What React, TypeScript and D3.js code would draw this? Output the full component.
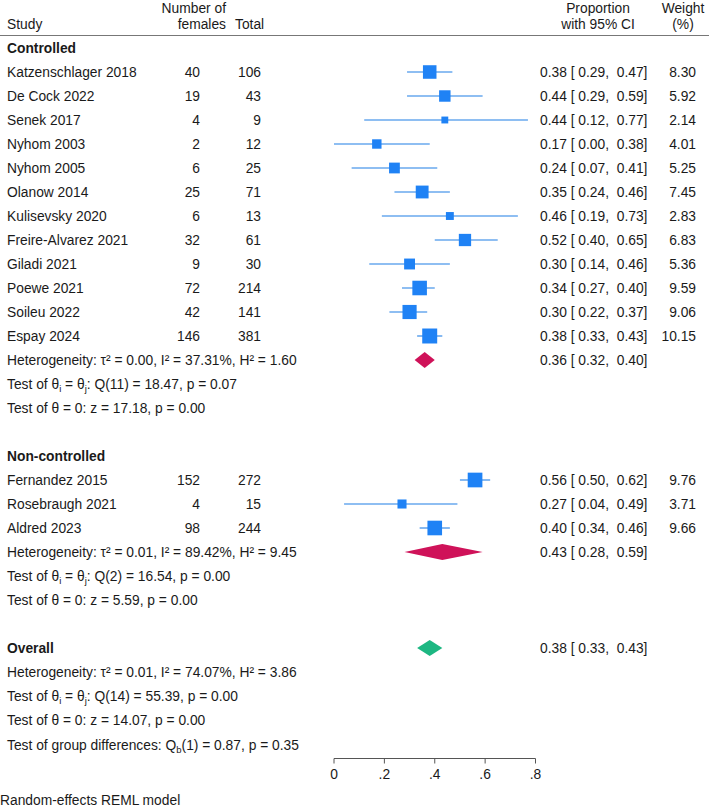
import React, { useEffect } from "react";
import * as d3 from "d3";

const studies = [
  "Katzenschlager 2018", "De Cock 2022", "Senek 2017", "Nyhom 2003", "Nyhom 2005",
  "Olanow 2014", "Kulisevsky 2020", "Freire-Alvarez 2021", "Giladi 2021", "Poewe 2021",
  "Soileu 2022", "Espay 2024", "Fernandez 2015", "Rosebraugh 2021", "Aldred 2023",
];
const groups = [0, 0, 0, 0, 0, 0, 0, 0, 0, 0, 0, 0, 1, 1, 1];
const females = [40, 19, 4, 2, 6, 25, 6, 32, 9, 72, 42, 146, 152, 4, 98];
const totals = [106, 43, 9, 12, 25, 71, 13, 61, 30, 214, 141, 381, 272, 15, 244];
const est = [0.38, 0.44, 0.44, 0.17, 0.24, 0.35, 0.46, 0.52, 0.30, 0.34, 0.30, 0.38, 0.56, 0.27, 0.40];
const lo = [0.29, 0.29, 0.12, 0.0, 0.07, 0.24, 0.19, 0.40, 0.14, 0.27, 0.22, 0.33, 0.50, 0.04, 0.34];
const hi = [0.47, 0.59, 0.77, 0.38, 0.41, 0.46, 0.73, 0.65, 0.46, 0.40, 0.37, 0.43, 0.62, 0.49, 0.46];
const weights = [8.30, 5.92, 2.14, 4.01, 5.25, 7.45, 2.83, 6.83, 5.36, 9.59, 9.06, 10.15, 9.76, 3.71, 9.66];

const groupNames = ["Controlled", "Non-controlled"];
const groupEst = [0.36, 0.43];
const groupLo = [0.32, 0.28];
const groupHi = [0.40, 0.59];
const groupTau2 = ["0.00", "0.01"];
const groupI2 = ["37.31", "89.42"];
const groupH2 = ["1.60", "9.45"];
const groupQdf = [11, 2];
const groupQ = ["18.47", "16.54"];
const groupQp = ["0.07", "0.00"];
const groupZ = ["17.18", "5.59"];
const groupZp = ["0.00", "0.00"];

const overallEst = 0.38;
const overallLo = 0.33;
const overallHi = 0.43;
const overallStats = { tau2: "0.01", i2: "74.07", h2: "3.86", qdf: 14, q: "55.39", qp: "0.00", z: "14.07", zp: "0.00" };
const groupDiff = { df: 1, q: "0.87", p: "0.35" };

const xTicks = [0, 0.2, 0.4, 0.6, 0.8];
const xTickLabels = ["0", ".2", ".4", ".6", ".8"];

const W = 709;
const H = 806;
const FONT = "'Liberation Sans', Arial, Helvetica, sans-serif";
const FS = 13.8;
const TXT = "#1a1a1a";
const SQ = "#1f82f5";
const CIL = "#68a8ee";
const SUB = "#cf1259";
const OVR = "#1db782";

const f2 = (v: number) => v.toFixed(2);

export default function App() {
  useEffect(() => {
    document.body.style.margin = "0";
  }, []);

  const x = d3.scaleLinear().domain([0, 0.8]).range([334, 535.5]);
  const rowStep = 24;
  const y0 = 48;
  const yRow = (i: number) => y0 + i * rowStep;
  const side = (w: number) => 4.7 * Math.sqrt(w);

  const elems: React.ReactNode[] = [];
  let k = 0;
  const text = (xx: number, yy: number, content: React.ReactNode, opts: any = {}) => {
    elems.push(
      <text key={k++} x={xx} y={yy} dominantBaseline="central" fontSize={FS} fill={TXT} fontFamily={FONT} {...opts}>
        {content}
      </text>
    );
  };
  const sub = (s: string) => (
    <tspan fontSize={9.5} dy={4}>{s}</tspan>
  );

  const diamond = (e: number, l: number, h: number, yy: number, color: string, key: string) => {
    const hh = 8;
    const p = d3.path();
    p.moveTo(x(l), yy);
    p.lineTo(x(e), yy - hh);
    p.lineTo(x(h), yy);
    p.lineTo(x(e), yy + hh);
    p.closePath();
    elems.push(<path key={key} d={p.toString()} fill={color} />);
  };

  const statLines = (
    startRow: number,
    tau2: string, i2: string, h2: string, qdf: number, q: string, qp: string, z: string, zp: string
  ) => {
    text(7, yRow(startRow), `Heterogeneity: \u03C4\u00B2 = ${tau2}, I\u00B2 = ${i2}%, H\u00B2 = ${h2}`);
    text(7, yRow(startRow + 1), (
      <>
        {"Test of \u03B8"}{sub("i")}<tspan dy={-4}>{" = \u03B8"}</tspan>{sub("j")}<tspan dy={-4}>{`: Q(${qdf}) = ${q}, p = ${qp}`}</tspan>
      </>
    ));
    text(7, yRow(startRow + 2), `Test of \u03B8 = 0: z = ${z}, p = ${zp}`);
  };

  // header
  text(7, 24, "Study");
  text(226, 8, "Number of", { textAnchor: "end" });
  text(226, 24, "females", { textAnchor: "end" });
  text(235, 24, "Total");
  text(598, 8, "Proportion", { textAnchor: "middle" });
  text(598, 24, "with 95% CI", { textAnchor: "middle" });
  text(683, 8, "Weight", { textAnchor: "middle" });
  text(683, 24, "(%)", { textAnchor: "middle" });
  elems.push(<line key="hdr" x1={0} x2={W} y1={35.5} y2={35.5} stroke="#777" strokeWidth={1} />);

  let row = 0;
  groupNames.forEach((gname, g) => {
    text(7, yRow(row), gname, { fontWeight: "bold" });
    row++;
    studies.forEach((s, i) => {
      if (groups[i] !== g) return;
      const yy = yRow(row);
      text(7, yy, s);
      text(200, yy, String(females[i]), { textAnchor: "end" });
      text(261, yy, String(totals[i]), { textAnchor: "end" });
      elems.push(
        <line key={`ci${i}`} x1={x(lo[i])} x2={x(hi[i])} y1={yy} y2={yy} stroke={CIL} strokeWidth={1.6} />
      );
      const sd = side(weights[i]);
      elems.push(
        <rect key={`sq${i}`} x={x(est[i]) - sd / 2} y={yy - sd / 2} width={sd} height={sd} fill={SQ} />
      );
      text(540, yy, `${f2(est[i])} [ ${f2(lo[i])},  ${f2(hi[i])}]`, { xmlSpace: "preserve" });
      text(696, yy, f2(weights[i]), { textAnchor: "end" });
      row++;
    });
    diamond(groupEst[g], groupLo[g], groupHi[g], yRow(row), SUB, `gd${g}`);
    text(540, yRow(row), `${f2(groupEst[g])} [ ${f2(groupLo[g])},  ${f2(groupHi[g])}]`, { xmlSpace: "preserve" });
    statLines(row, groupTau2[g], groupI2[g], groupH2[g], groupQdf[g], groupQ[g], groupQp[g], groupZ[g], groupZp[g]);
    row += 4;
  });

  text(7, yRow(row), "Overall", { fontWeight: "bold" });
  diamond(overallEst, overallLo, overallHi, yRow(row), OVR, "ovr");
  text(540, yRow(row), `${f2(overallEst)} [ ${f2(overallLo)},  ${f2(overallHi)}]`, { xmlSpace: "preserve" });
  row++;
  const o = overallStats;
  statLines(row, o.tau2, o.i2, o.h2, o.qdf, o.q, o.qp, o.z, o.zp);
  row += 3;
  text(7, yRow(row) + 1, (
    <>
      {"Test of group differences: Q"}{sub("b")}<tspan dy={-4}>{`(${groupDiff.df}) = ${groupDiff.q}, p = ${groupDiff.p}`}</tspan>
    </>
  ));

  // axis
  const axisY = 758.5;
  elems.push(
    <line key="axis" x1={x(0)} x2={x(0.8)} y1={axisY} y2={axisY} stroke="#555" strokeWidth={1} />
  );
  xTicks.forEach((t, i) => {
    elems.push(
      <line key={`tk${i}`} x1={x(t)} x2={x(t)} y1={axisY} y2={axisY + 5} stroke="#555" strokeWidth={1} />
    );
    text(x(t), 774, xTickLabels[i], { textAnchor: "middle" });
  });

  text(0, 800, "Random-effects REML model");

  return (
    <svg width={W} height={H} style={{ display: "block", background: "#fff" }}>
      <rect width={W} height={H} fill="#fff" />
      {elems}
    </svg>
  );
}
